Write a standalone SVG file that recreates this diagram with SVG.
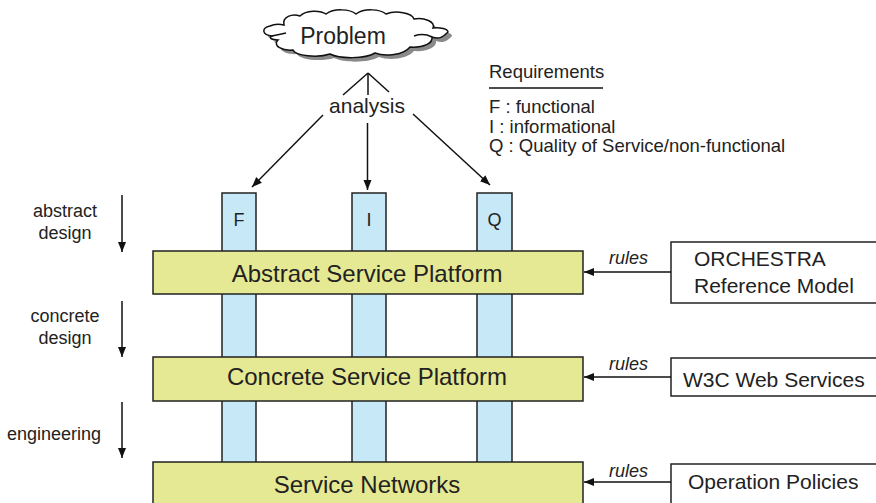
<svg xmlns="http://www.w3.org/2000/svg" width="876" height="503" viewBox="0 0 876 503">
  <defs>
    <marker id="arrow" viewBox="0 0 10 10" refX="10" refY="5" markerWidth="10" markerHeight="10" markerUnits="userSpaceOnUse" orient="auto">
      <path d="M0,1 L10,5 L0,9 Z" fill="#111"/>
    </marker>
  </defs>
  <style>
    text { font-family: "Liberation Sans", Arial, sans-serif; fill: #222; }
    .bar { fill: #e6e993; stroke: #222; stroke-width: 1.5; }
    .col { fill: #c6e8f7; stroke: #222; stroke-width: 1.5; }
    .box { fill: #fff; stroke: #222; stroke-width: 1.5; }
    .conn { stroke: #111; stroke-width: 1.5; fill: none; }
    .bartext { font-size: 24px; text-anchor: middle; }
    .boxtext { font-size: 21px; }
    .side { font-size: 18px; text-anchor: middle; }
    .side-end { font-size: 18px; text-anchor: end; }
    .rules { font-size: 18px; font-style: italic; }
    .req { font-size: 18.5px; }
    .colt { font-size: 18px; text-anchor: middle; }
  </style>
  <rect width="876" height="503" fill="#fff"/>

  <!-- Problem cloud -->
  <g id="problem">
    <path transform="translate(4,4)" fill="#8a8a8a" d="M272 36 C262 35 261 28 270 26 C274 24 280 24 284 25 C282 17 292 13 300 16 C306 10 320 10 326 14 C334 8 350 9 356 14 C364 8 380 9 386 14 C396 10 412 13 414 19 C424 17 436 22 433 28 C440 27 448 29 448 32 C444 36 440 40 432 37 C433 43 424 48 410 47 C404 55 385 57 375 53 C365 59 340 59 330 54 C318 58 295 56 293 50 C283 51 272 46 278 40 C272 40 268 38 272 36 Z"/>
    <path fill="#fff" stroke="#111" stroke-width="1.5" d="M272 36 C262 35 261 28 270 26 C274 24 280 24 284 25 C282 17 292 13 300 16 C306 10 320 10 326 14 C334 8 350 9 356 14 C364 8 380 9 386 14 C396 10 412 13 414 19 C424 17 436 22 433 28 C440 27 448 29 448 32 C444 36 440 40 432 37 C433 43 424 48 410 47 C404 55 385 57 375 53 C365 59 340 59 330 54 C318 58 295 56 293 50 C283 51 272 46 278 40 C272 40 268 38 272 36 Z"/>
    <path fill="none" stroke="#111" stroke-width="1.5" d="M272 36 C277 35 282 34 286 33"/>
    <path fill="none" stroke="#111" stroke-width="1.5" d="M432 37 C426 34 420 34 414 36"/>
    <text x="343" y="44" font-size="23" text-anchor="middle">Problem</text>
  </g>

  <!-- requirement columns -->
  <g id="col-f"><rect class="col" x="222" y="193" width="34" height="312"/><text class="colt" x="239" y="226">F</text></g>
  <g id="col-i"><rect class="col" x="352" y="193" width="34" height="312"/><text class="colt" x="369" y="226">I</text></g>
  <g id="col-q"><rect class="col" x="477" y="193" width="35" height="312"/><text class="colt" x="494.5" y="226">Q</text></g>

  <!-- platform layers -->
  <g id="abstract-platform">
    <rect class="bar" x="153" y="251" width="430" height="43"/>
    <text class="bartext" x="367" y="282">Abstract Service Platform</text>
  </g>
  <g id="concrete-platform">
    <rect class="bar" x="153" y="357" width="430" height="44"/>
    <text class="bartext" x="367" y="385">Concrete Service Platform</text>
  </g>
  <g id="service-networks">
    <rect class="bar" x="153" y="462" width="430" height="45"/>
    <text class="bartext" x="367" y="493">Service Networks</text>
  </g>

  <!-- rule sources -->
  <g id="orchestra">
    <rect class="box" x="671" y="242" width="210" height="61"/>
    <text class="boxtext" x="694" y="266">ORCHESTRA</text>
    <text class="boxtext" x="694" y="293">Reference Model</text>
  </g>
  <g id="w3c">
    <rect class="box" x="671" y="358" width="210" height="38"/>
    <text class="boxtext" x="683" y="387">W3C Web Services</text>
  </g>
  <g id="policies">
    <rect class="box" x="671" y="464" width="210" height="42"/>
    <text class="boxtext" x="688" y="489">Operation Policies</text>
  </g>

  <!-- requirements legend -->
  <g id="legend">
    <text class="req" x="489" y="78">Requirements</text>
    <line x1="489" y1="88" x2="603" y2="88" stroke="#111" stroke-width="1.5"/>
    <text class="req" x="489" y="113">F : functional</text>
    <text class="req" x="489" y="133">I : informational</text>
    <text class="req" x="489" y="152">Q : Quality of Service/non-functional</text>
  </g>

  <!-- phase labels -->
  <g id="phases">
    <text class="side" x="65" y="217">abstract</text>
    <text class="side" x="65" y="239">design</text>
    <text class="side" x="65" y="322">concrete</text>
    <text class="side" x="65" y="344">design</text>
    <text class="side-end" x="101" y="440">engineering</text>
  </g>

  <!-- connectors -->
  <g id="connectors">
    <line class="conn" x1="368" y1="95" x2="368" y2="73"/>
    <line class="conn" x1="343" y1="95" x2="368" y2="73"/>
    <line class="conn" x1="389" y1="92" x2="368" y2="73"/>
    <text x="367" y="113" font-size="21" text-anchor="middle">analysis</text>
    <line class="conn" x1="323" y1="115" x2="252" y2="187" marker-end="url(#arrow)"/>
    <line class="conn" x1="367.5" y1="123" x2="367.5" y2="190" marker-end="url(#arrow)"/>
    <line class="conn" x1="413" y1="114" x2="490" y2="185" marker-end="url(#arrow)"/>

    <line class="conn" x1="122" y1="195" x2="122" y2="252" marker-end="url(#arrow)"/>
    <line class="conn" x1="122" y1="301" x2="122" y2="357" marker-end="url(#arrow)"/>
    <line class="conn" x1="122" y1="402" x2="122" y2="458" marker-end="url(#arrow)"/>

    <line class="conn" x1="671" y1="272" x2="584" y2="272" marker-end="url(#arrow)"/>
    <line class="conn" x1="671" y1="377" x2="584" y2="377" marker-end="url(#arrow)"/>
    <line class="conn" x1="671" y1="482" x2="584" y2="482" marker-end="url(#arrow)"/>
    <text class="rules" x="609" y="264">rules</text>
    <text class="rules" x="609" y="370">rules</text>
    <text class="rules" x="609" y="477">rules</text>
  </g>
</svg>
